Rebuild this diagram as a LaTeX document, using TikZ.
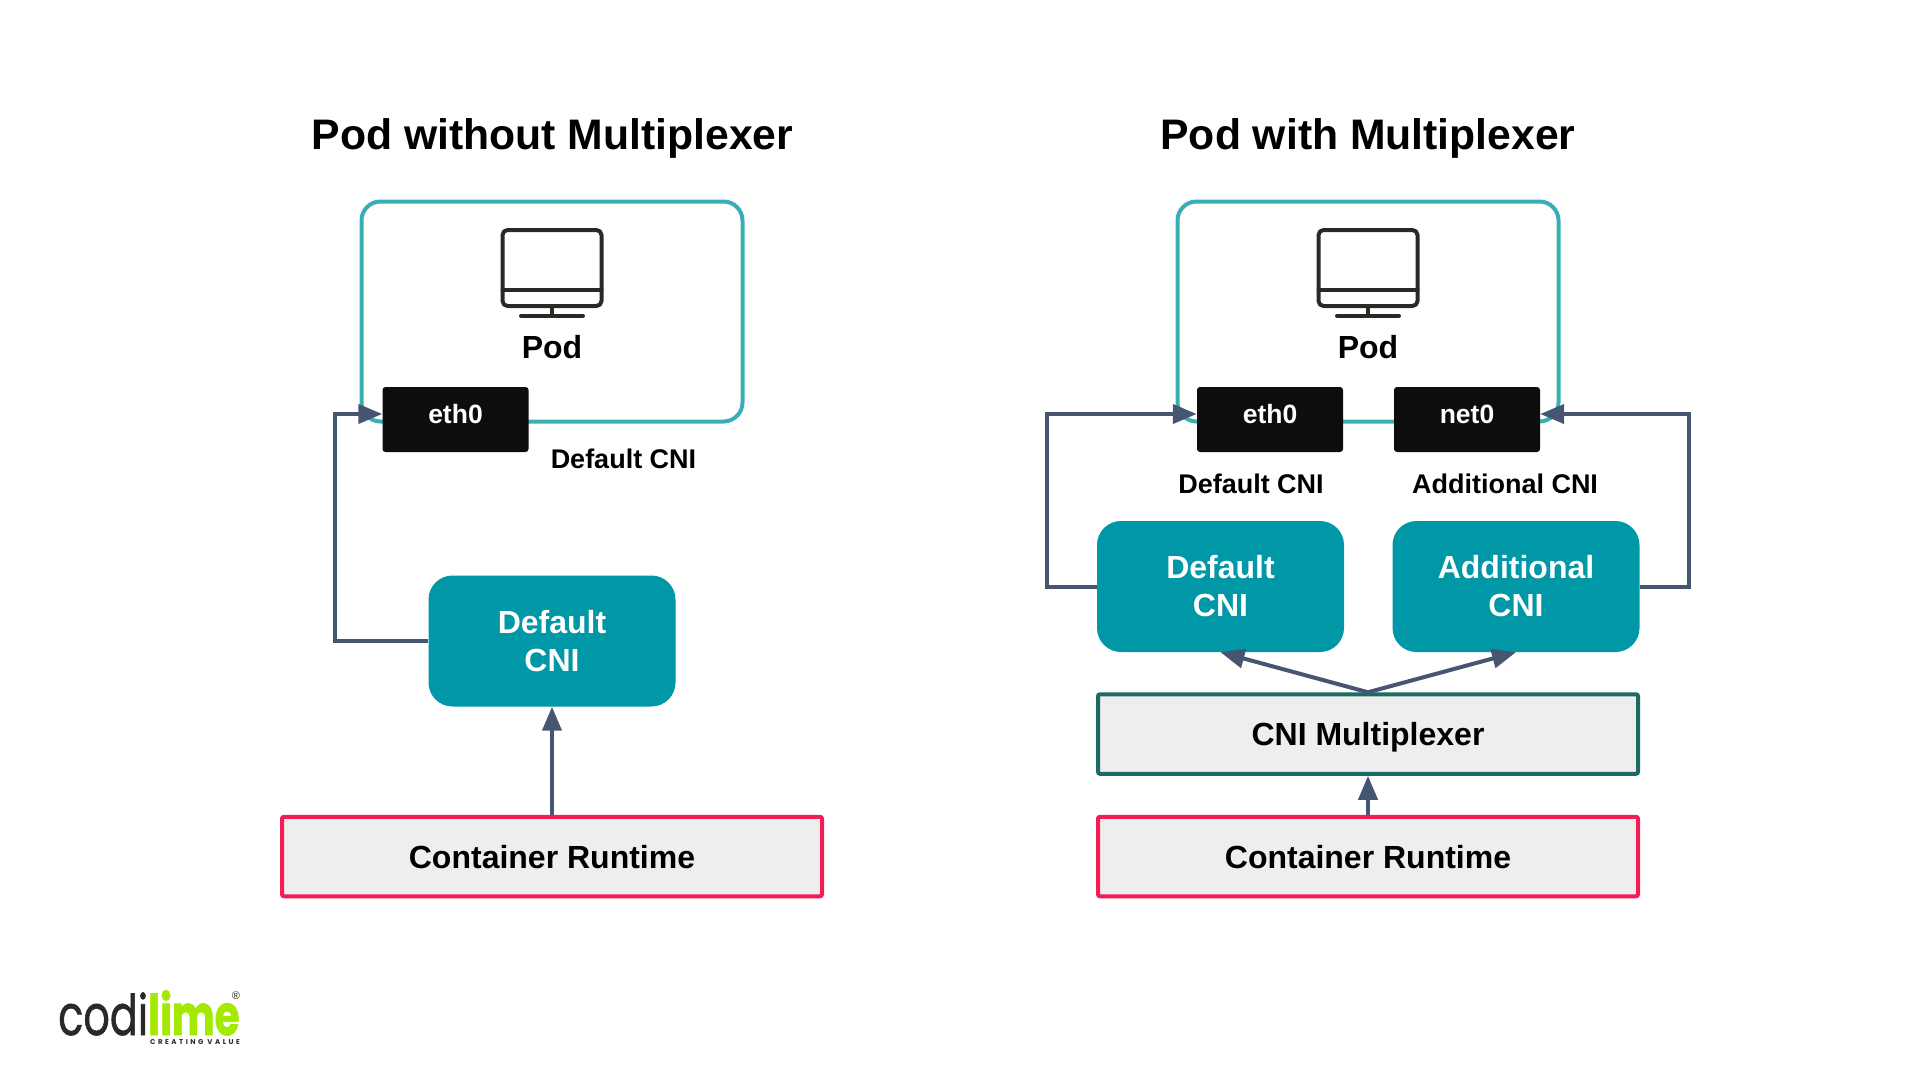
\documentclass[tikz,border=0pt]{standalone}
\usepackage{fontspec}
\usepackage{graphicx}
\setmainfont{Liberation Sans}
\newfontfamily\logofont[FakeBold=1.2]{Poppins}
\newfontfamily\logoheavy[FakeBold=1.5]{Poppins}
\newfontfamily\logospaced[LetterSpace=36]{Poppins}
\usetikzlibrary{arrows.meta,calc}
\definecolor{wire}{HTML}{465670}
\definecolor{podline}{HTML}{3AAFB3}
\definecolor{cniteal}{HTML}{0097A7}
\definecolor{muxline}{HTML}{1B6B63}
\definecolor{rtline}{HTML}{F41C54}
\definecolor{boxgrey}{HTML}{EEEEEE}
\definecolor{ink}{HTML}{2B2926}
\definecolor{limeg}{HTML}{A4EA00}
\newcommand{\fs}[1]{\fontsize{#1}{#1}\selectfont\bfseries}
\tikzset{
  wirearrow/.style={draw=wire,line width=4pt,line join=miter,-{Triangle[length=24pt,width=19pt]}},
  titletext/.style={font=\fs{42.7},text=black,inner sep=0pt},
  podbox/.style={draw=podline,line width=4pt,rounded corners=19pt,minimum width=381pt,minimum height=220pt,inner sep=0pt},
  podtext/.style={font=\fs{32},inner sep=0pt},
  portbox/.style={fill=black!95,rounded corners=3pt,minimum width=146pt,minimum height=65pt,inner sep=0pt,font=\fs{26.5},text=white,text height=18pt,text depth=10pt},
  smalllabel/.style={font=\fs{27},inner sep=0pt},
  cnibox/.style={fill=cniteal,rounded corners=24pt,minimum width=247pt,minimum height=131pt,inner sep=0pt,font=\fs{32},text=white,align=center},
  flatbox/.style={fill=boxgrey,line width=4pt,rounded corners=2pt,minimum width=540pt,minimum height=79.5pt,inner sep=0pt,font=\fs{32},text=black,text depth=0pt},
  runtime/.style={flatbox,draw=rtline},
  muxbox/.style={flatbox,draw=muxline},
  screen/.style={draw=ink,line width=4pt,line cap=round,line join=round},
  logotext/.style={inner sep=0pt,anchor=base west},
}
\begin{document}
\begin{tikzpicture}[x=1pt,y=-1pt]
\useasboundingbox (0,0) rectangle (1920,1080);
% titles
\node[titletext] (t1) at (552.5,138.5) {Pod without Multiplexer};
\node[titletext] (t2) at (1368,138.5) {Pod with Multiplexer};
% pods
\node[podbox] (pod1) at (552,311.5) {};
\node[podbox] (pod2) at (1368,311.5) {};
% monitors
\foreach \cx in {552,1368}{
  \begin{scope}[shift={(\cx,0)}]
    \draw[screen,rounded corners=5pt] (-49.5,230) rectangle (49.5,306);
    \draw[screen] (-49.5,289.5) -- (49.5,289.5);
    \draw[screen] (0,306) -- (0,315.5);
    \draw[screen] (-31,315.5) -- (31,315.5);
  \end{scope}
}
\node[podtext] (podt1) at (552,347.5) {Pod};
\node[podtext] (podt2) at (1368,347.5) {Pod};
% ports
\node[portbox] (eth1) at (455.5,419.5) {eth0};
\node[portbox] (eth2) at (1270,419.5) {eth0};
\node[portbox] (net2) at (1467,419.5) {net0};
\node[smalllabel] (l1) at (623.5,459) {Default CNI};
\node[smalllabel] (l2) at (1251,484) {Default CNI};
\node[smalllabel] (l3) at (1505,484) {Additional CNI};
% cni
\node[cnibox] (cni1) at (552,641) {Default\\[6pt]CNI};
\node[cnibox] (cni2) at (1220.5,586.5) {Default\\[6pt]CNI};
\node[cnibox] (cni3) at (1516,586.5) {Additional\\[6pt]CNI};
% bottom
\node[runtime] (rt1) at (552,856.5) {Container Runtime};
\node[runtime] (rt2) at (1368,856.5) {Container Runtime};
\node[muxbox] (mux) at (1368,734) {CNI Multiplexer};
% connectors
\draw[wirearrow] (rt1.north) -- (cni1.south);
\draw[wirearrow] (rt2.north) -- (mux.south);
\draw[wirearrow] (mux.north) -- (cni2.south);
\draw[wirearrow] (mux.north) -- (cni3.south);
\draw[wirearrow] (cni1.west) -- ++(-93,0) |- ([yshift=5.5pt]eth1.west);
\draw[wirearrow] (cni2.west) -- ++(-50,0) |- ([yshift=5.5pt]eth2.west);
\draw[wirearrow] (cni3.east) -- ++(49,0) |- ([yshift=5.5pt]net2.east);
% logo
\node[logotext,text=ink,font=\logofont\fontsize{56}{56}\selectfont] (logoa) at (58,1035) {\scalebox{0.74}[1]{codi}};
\node[logotext,text=limeg,font=\logoheavy\bfseries\fontsize{56}{56}\selectfont] (logob) at (148,1035) {\scalebox{0.72}[1]{lime}};
\node[logotext,text=ink,font=\logospaced\bfseries\fontsize{7}{7}\selectfont] (logoc) at (150,1044) {CREATING VALUE};
\node[inner sep=0pt,text=ink,font=\fontsize{11}{11}\selectfont] (logod) at (236,996) {®};
\end{tikzpicture}
\end{document}
